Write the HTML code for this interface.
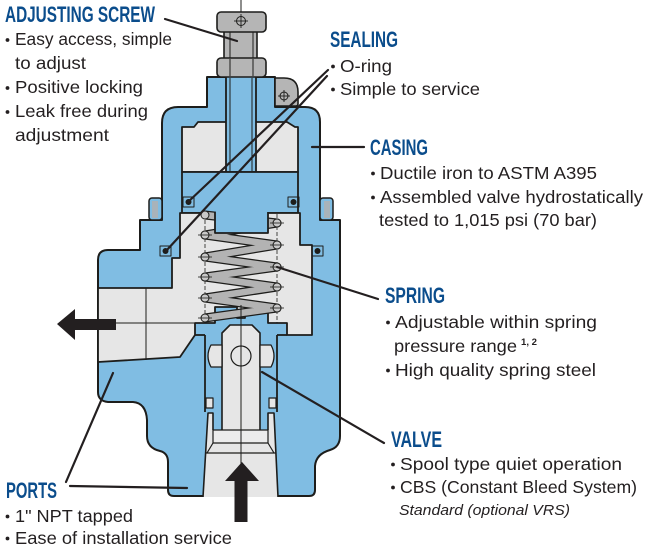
<!DOCTYPE html>
<html><head><meta charset="utf-8"><style>html,body{margin:0;padding:0;background:#fff}svg{display:block}</style></head>
<body>
<svg width="648" height="550" viewBox="0 0 648 550" xmlns="http://www.w3.org/2000/svg">
<rect width="648" height="550" fill="#fff"/>
<g stroke="#1d1d1b" stroke-linejoin="round">
<!-- casing -->
<path d="M207,77 H275 V107 H305 Q320,107 320,122 V220 H340 V436 Q340,447 330,450 Q316,454 315,466 V490 Q315,496 309,496 H174 Q168,496 168,490 V462 Q168,453 160,451 Q147,448 147,436 V420 Q146,403 133,402 H108 Q98,401 98,392 V260 Q98,250 108,250 H140 V220 H162 V123 Q162,107 178,107 H207 Z" fill="#80bde3" stroke-width="2"/>
<!-- flange bumps -->
<rect x="149" y="198" width="13" height="22" rx="3" fill="#80bde3" stroke-width="1.5"/>
<rect x="152" y="201" width="6" height="17" fill="#a9b3ba" stroke="none"/>
<rect x="320" y="198" width="13" height="22" rx="3" fill="#80bde3" stroke-width="1.5"/>
<rect x="324" y="201" width="6" height="17" fill="#a9b3ba" stroke="none"/>
<!-- upper chamber -->
<path d="M182,172 V127 H194 L198,122 H287 L295,127 H298 V172 Z" fill="#e6e6e6" stroke-width="1.8"/>
<!-- shaft -->
<rect x="226" y="76" width="30" height="96" fill="#80bde3" stroke-width="1.8"/>
<line x1="230" y1="78" x2="230" y2="171" stroke-width="1"/>
<line x1="252" y1="78" x2="252" y2="171" stroke-width="1"/>
<!-- piston -->
<rect x="182" y="172" width="116" height="41" fill="#80bde3" stroke-width="1.8"/>
<!-- spring chamber + outlet -->
<path d="M180,213 H300 V245 H312 V335 H287 V323 H268 V307 H245 V318 H237 V307 H215 V323 H195 V335 L180,357 L98,362 V288 H172 V258 H180 Z" fill="#e6e6e6" stroke-width="1.8"/>
<line x1="146" y1="288" x2="146" y2="360" stroke-width="1"/>
<line x1="98" y1="323" x2="196" y2="323" stroke-width="1"/>
<line x1="205" y1="214" x2="205" y2="323" stroke-width="0.8" stroke-dasharray="4,2"/>
<line x1="277" y1="214" x2="277" y2="323" stroke-width="0.8" stroke-dasharray="4,2"/>
<!-- spring -->
<polyline points="205,215 277,223 205,235 277,245 205,257 277,267 205,277 277,287 205,298 277,308 205,318" fill="none" stroke="#1d1d1b" stroke-width="9"/>
<polyline points="205,215 277,223 205,235 277,245 205,257 277,267 205,277 277,287 205,298 277,308 205,318" fill="none" stroke="#b3b3b3" stroke-width="6.5"/>
<g fill="#c8c8c8" stroke-width="1">
<circle cx="205" cy="215" r="4"/><circle cx="205" cy="235" r="4"/><circle cx="205" cy="257" r="4"/><circle cx="205" cy="277" r="4"/><circle cx="205" cy="298" r="4"/><circle cx="205" cy="318" r="4"/>
<circle cx="277" cy="223" r="4"/><circle cx="277" cy="245" r="4"/><circle cx="277" cy="267" r="4"/><circle cx="277" cy="287" r="4"/><circle cx="277" cy="308" r="4"/>
</g>
<g stroke-width="0.8">
<line x1="198" y1="235" x2="212" y2="235"/><line x1="198" y1="257" x2="212" y2="257"/><line x1="198" y1="277" x2="212" y2="277"/><line x1="198" y1="298" x2="212" y2="298"/><line x1="198" y1="318" x2="212" y2="318"/>
<line x1="270" y1="223" x2="284" y2="223"/><line x1="270" y1="245" x2="284" y2="245"/><line x1="270" y1="267" x2="284" y2="267"/><line x1="270" y1="287" x2="284" y2="287"/><line x1="270" y1="308" x2="284" y2="308"/>
</g>
<!-- piston stem -->
<path d="M215,212 V233 H268 V212" fill="#80bde3" stroke-width="1.8"/>
<rect x="216" y="211" width="51" height="3" fill="#80bde3" stroke="none"/>
<!-- sleeve lines -->
<line x1="205" y1="335" x2="205" y2="412" stroke-width="1.8"/>
<line x1="277" y1="335" x2="277" y2="412" stroke-width="1.8"/>
<line x1="195" y1="335" x2="205" y2="335" stroke-width="1.8"/>
<line x1="277" y1="335" x2="287" y2="335" stroke-width="1.8"/>
<!-- spool -->
<path d="M222,333 L230,325 H252 L260,333 V431 H222 Z" fill="#e6e6e6" stroke-width="1.6"/>
<!-- cross ports -->
<path d="M222,345 H211 Q205,356 211,367 H222 Z" fill="#e6e6e6" stroke-width="1.3"/>
<path d="M260,345 H271 Q277,356 271,367 H260 Z" fill="#e6e6e6" stroke-width="1.3"/>
<circle cx="241" cy="356" r="10" fill="none" stroke-width="1.2"/>
<rect x="206" y="398" width="7" height="10" fill="#e6e6e6" stroke-width="1.2"/>
<rect x="269" y="398" width="7" height="10" fill="#e6e6e6" stroke-width="1.2"/>
<!-- inlet -->
<path d="M208,413 H213 V430 H268 V413 H274 L278,497 H203 Z" fill="#e6e6e6" stroke="none"/>
<path d="M203,497 L208,413 L213,413 V430" fill="none" stroke-width="1.6"/>
<path d="M278,497 L274,413 L268,413 V430" fill="none" stroke-width="1.6"/>
<rect x="213" y="430" width="55" height="13" fill="#ececec" stroke-width="1.2"/>
<path d="M207,453 L213,443 M274,453 L268,443" fill="none" stroke-width="1.2"/>
<line x1="206" y1="453" x2="276" y2="453" stroke-width="1.2"/>
<line x1="241" y1="305" x2="241" y2="465" stroke-width="1"/>
<!-- o-rings -->
<g fill="none" stroke-width="1"><rect x="183" y="197" width="11" height="10"/><rect x="288" y="197" width="11" height="10"/><rect x="160" y="246" width="11" height="10"/><rect x="312" y="246" width="11" height="10"/></g>
<g fill="#1d1d1b" stroke="none"><circle cx="188.5" cy="202" r="3"/><circle cx="293.5" cy="202" r="3"/><circle cx="165.5" cy="251" r="3"/><circle cx="317.5" cy="251" r="3"/></g>
<!-- screw & nuts -->
<line x1="241" y1="0" x2="241" y2="12" stroke-width="1"/>
<rect x="224" y="31" width="33" height="28" fill="#b5b5b5" stroke-width="1.6"/>
<line x1="230" y1="32" x2="230" y2="58" stroke-width="1"/><line x1="253" y1="32" x2="253" y2="58" stroke-width="1"/>
<rect x="217" y="12" width="49" height="20" rx="4" fill="#b5b5b5" stroke-width="1.6"/>
<circle cx="241" cy="21" r="4.5" fill="none" stroke-width="1"/>
<line x1="234" y1="21" x2="248" y2="21" stroke-width="0.9"/><line x1="241" y1="14" x2="241" y2="28" stroke-width="0.9"/>
<rect x="217" y="58" width="49" height="19" rx="4" fill="#b5b5b5" stroke-width="1.6"/>
<line x1="230" y1="59" x2="230" y2="76" stroke-width="1"/><line x1="253" y1="59" x2="253" y2="76" stroke-width="1"/>
<!-- vent fitting -->
<path d="M275,78 H284 Q298,78 298,92 V104 Q298,106 296,106 H275 Z" fill="#b5b5b5" stroke-width="1.6"/>
<circle cx="284" cy="96" r="4" fill="none" stroke-width="1"/>
<line x1="278" y1="96" x2="290" y2="96" stroke-width="0.9"/><line x1="284" y1="90" x2="284" y2="102" stroke-width="0.9"/>
</g>
<!-- arrows -->
<path d="M57,324 L75,309 V319 H116 V330 H75 V340 Z" fill="#231f20"/>
<path d="M242,462 L259,481 H247.5 V522 H234.5 V481 H225 Z" fill="#231f20"/>
<!-- leaders -->
<g stroke="#231f20" stroke-width="2.2" fill="none" stroke-linecap="round">
<line x1="165" y1="19" x2="237" y2="41"/>
<line x1="328" y1="70" x2="188" y2="202"/>
<line x1="327" y1="76" x2="166" y2="251"/>
<line x1="312" y1="147" x2="364" y2="147"/>
<line x1="277" y1="267" x2="378" y2="299"/>
<line x1="262" y1="372" x2="384" y2="443"/>
<line x1="66" y1="482" x2="113" y2="373"/>
<line x1="70" y1="486" x2="187" y2="488"/>
</g>
<!-- headings -->
<g font-family="'Liberation Sans', sans-serif" font-weight="bold" font-size="22" fill="#0b4d8c">
<text x="5" y="22" textLength="150" lengthAdjust="spacingAndGlyphs">ADJUSTING SCREW</text>
<text x="330" y="47" textLength="68" lengthAdjust="spacingAndGlyphs">SEALING</text>
<text x="370" y="155" textLength="58" lengthAdjust="spacingAndGlyphs">CASING</text>
<text x="385" y="303" textLength="60" lengthAdjust="spacingAndGlyphs">SPRING</text>
<text x="391" y="447" textLength="51" lengthAdjust="spacingAndGlyphs">VALVE</text>
<text x="6" y="498" textLength="51" lengthAdjust="spacingAndGlyphs">PORTS</text>
</g>
<!-- bullets -->
<g fill="#231f20">
<circle cx="7.5" cy="40" r="1.9"/><circle cx="7.5" cy="88" r="1.9"/><circle cx="7.5" cy="112" r="1.9"/>
<circle cx="333" cy="66.5" r="1.9"/><circle cx="333" cy="89.5" r="1.9"/>
<circle cx="373" cy="173.5" r="1.9"/><circle cx="373" cy="197.5" r="1.9"/>
<circle cx="388" cy="322.5" r="1.9"/><circle cx="388" cy="370.5" r="1.9"/>
<circle cx="393" cy="464.5" r="1.9"/><circle cx="393" cy="487.5" r="1.9"/>
<circle cx="7.5" cy="516.5" r="1.9"/><circle cx="7.5" cy="538.5" r="1.9"/>
</g>
<!-- body text -->
<g font-family="'Liberation Sans', sans-serif" font-size="17.5" fill="#231f20">
<text x="15" y="45" textLength="157" lengthAdjust="spacingAndGlyphs">Easy access, simple</text>
<text x="15" y="69" textLength="71" lengthAdjust="spacingAndGlyphs">to adjust</text>
<text x="15" y="93" textLength="128" lengthAdjust="spacingAndGlyphs">Positive locking</text>
<text x="15" y="117" textLength="133" lengthAdjust="spacingAndGlyphs">Leak free during</text>
<text x="15" y="141" textLength="94" lengthAdjust="spacingAndGlyphs">adjustment</text>
<text x="340" y="72" textLength="52" lengthAdjust="spacingAndGlyphs">O-ring</text>
<text x="340" y="95" textLength="140" lengthAdjust="spacingAndGlyphs">Simple to service</text>
<text x="380" y="179" textLength="217" lengthAdjust="spacingAndGlyphs">Ductile iron to ASTM A395</text>
<text x="380" y="203" textLength="263" lengthAdjust="spacingAndGlyphs">Assembled valve hydrostatically</text>
<text x="379" y="226" textLength="218" lengthAdjust="spacingAndGlyphs">tested to 1,015 psi (70 bar)</text>
<text x="395" y="328" textLength="202" lengthAdjust="spacingAndGlyphs">Adjustable within spring</text>
<text x="394" y="352" textLength="123" lengthAdjust="spacingAndGlyphs">pressure range</text>
<text x="395" y="376" textLength="201" lengthAdjust="spacingAndGlyphs">High quality spring steel</text>
<text x="400" y="470" textLength="222" lengthAdjust="spacingAndGlyphs">Spool type quiet operation</text>
<text x="400" y="493" textLength="237" lengthAdjust="spacingAndGlyphs">CBS (Constant Bleed System)</text>
<text x="15" y="522" textLength="118" lengthAdjust="spacingAndGlyphs">1" NPT tapped</text>
<text x="15" y="544" textLength="217" lengthAdjust="spacingAndGlyphs">Ease of installation service</text>
</g>
<text x="521" y="345" font-family="'Liberation Sans', sans-serif" font-size="9.5" font-weight="bold" fill="#231f20" textLength="16" lengthAdjust="spacingAndGlyphs">1, 2</text>
<text x="399" y="515" font-family="'Liberation Sans', sans-serif" font-size="15" font-style="italic" fill="#231f20" textLength="171" lengthAdjust="spacingAndGlyphs">Standard (optional VRS)</text>
</svg>
</body></html>
